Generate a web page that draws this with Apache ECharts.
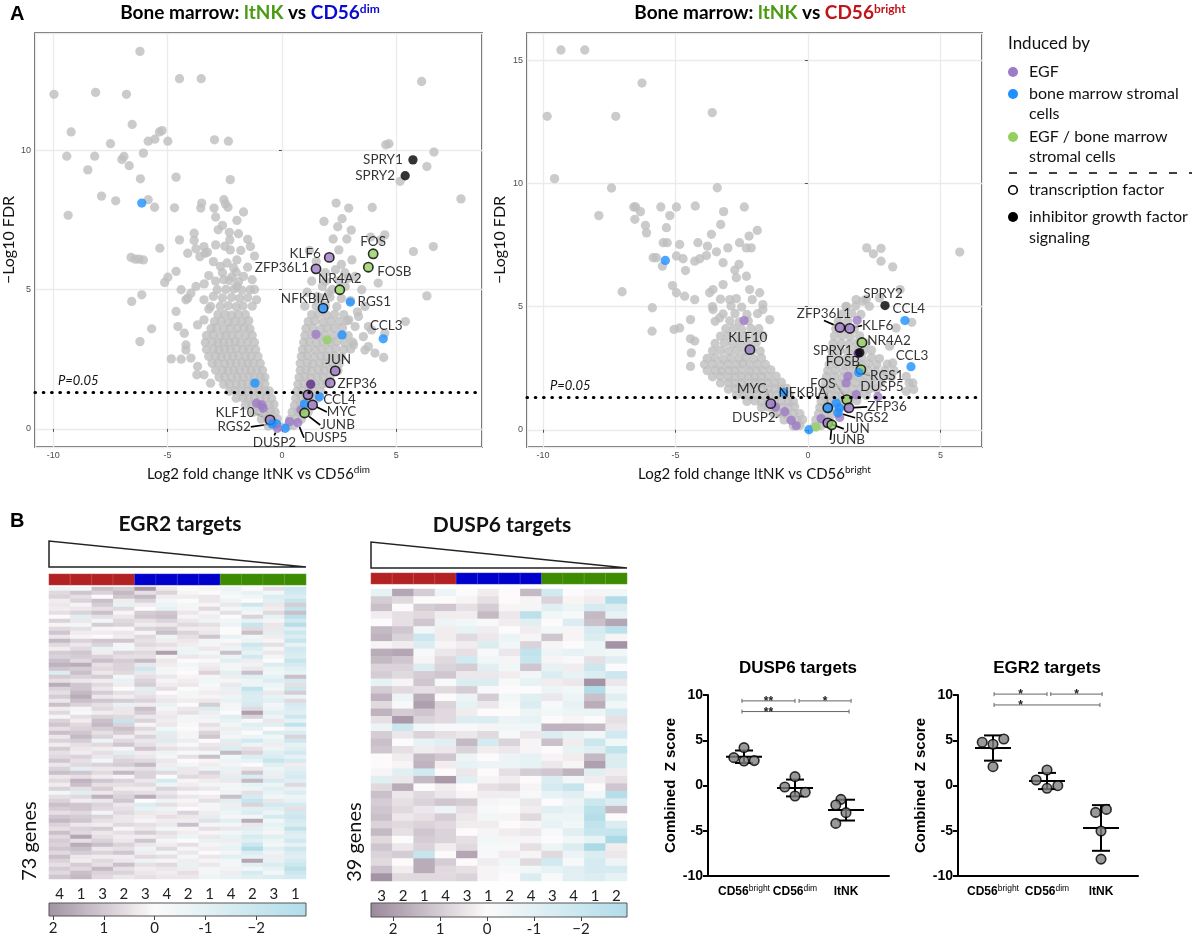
<!DOCTYPE html>
<html>
<head>
<meta charset="utf-8">
<title>Bone marrow ltNK</title>
<script src="https://cdn.jsdelivr.net/npm/echarts@6/dist/echarts.min.js"></script>
<style>
  html, body { margin: 0; padding: 0; background: #fff; }
  #chart { width: 1196px; height: 937px; }
</style>
</head>
<body>
<div id="chart"></div>
<script>
// ---------- panel A: volcano data (log2 FC, -log10 FDR) ----------
const pThreshold = 1.3; // -log10(0.05)

const dimGrey = [
  [-6.21,13.54],[-9.97,12.0],[-8.15,12.07],[-6.8,12.0],[-4.48,12.56],[-3.53,12.56],[6.11,12.46],
  [-9.22,10.65],[-6.55,10.92],[-7.5,10.23],[-5.36,10.65],[-5.24,10.7],[-5.85,10.32],[-5.56,10.39],[-4.99,10.32],[-2.95,10.37],[-2.34,10.32],
  [-9.41,9.78],[-8.19,9.78],[-7.0,9.66],[-6.91,9.77],[-6.68,9.44],[-6.06,9.89],[-8.49,9.29],[-6.19,8.97],[-4.63,9.03],[-2.26,8.94],
  [-7.89,8.35],[-7.27,8.18],[-9.35,7.66],[-5.85,8.22],[-5.57,7.95],[-4.7,7.93],[-3.51,8.1],[-3.55,7.92],[-2.97,7.92],[-2.54,8.22],[-2.47,8.07],[-2.36,7.95],[-1.68,7.78],[-1.97,7.48],
  [5.17,8.88],[4.68,10.23],[4.54,10.19],[6.65,9.93],[6.34,9.41],[7.83,8.25],
  [2.37,8.1],[2.92,7.92],[3.95,7.94],[1.84,7.44],[2.63,7.54],[2.44,7.25],[3.03,7.13],
  [5.75,6.36],[6.62,6.54],[6.34,4.77],[5.4,3.85],[4.45,2.56],[4.21,5.23],[4.5,6.96],[4.31,6.78],[3.88,6.88],[2.24,6.81],[2.84,6.81],
  [-3.76,6.46],[-3.36,6.3],[-4.48,6.78],[-3.84,6.76],[-3.84,7.02],[-2.79,7.14],[-2.28,6.78],[-4.12,6.3],[-3.59,6.18],[-3.26,6.34],[-5.34,6.48],
  [-6.6,6.15],[-6.42,6.09],[-6.25,6.09],[-6.06,6.06],[-1.38,6.54],[-2.26,6.42],
  [-4.63,5.65],[-4.99,5.44],[-5.13,5.25],[-6.13,4.81],[-6.57,4.57],[-5.7,3.59],[-6.21,3.13],[-4.84,2.51],[-4.63,4.21],[-4.41,4.99],[-4.12,4.69],[-4.2,3.01],[-4.41,2.5],[-3.72,1.94],
  [-3.41,6.54],[-1.97,6.06],[-2.69,5.83],[-2.11,5.77],[-1.68,5.47],[-2.54,5.35],[-1.97,5.11],[-1.39,4.99],[-2.83,4.99],[-1.11,4.63],
  [-3.76,5.11],[-3.98,4.87],[-4.2,4.63],[-3.41,4.63],[-3.12,4.39],[-3.41,3.91],[-3.69,3.73],
  [-4.55,3.67],[-4.27,3.43],[-4.2,2.83],[-3.98,2.54],[-3.69,2.24],[-3.41,1.94],[-3.12,1.64],
  [-2.9,7.6],[-2.6,7.3],[-2.3,7.05],[-1.9,7.0],[-1.5,6.8],[-2.9,6.6],[-2.5,6.55],[-1.8,6.4],[-1.2,6.2],[-3.0,6.0],
  [-2.4,5.95],[-1.5,5.8],[-3.2,5.5],[-2.2,5.45],[-1.3,5.35],[-3.4,5.2],[-1.2,5.0],[-3.0,4.75],[-1.3,4.4],[-3.2,4.3],
  [1.2,6.4],[1.5,6.0],[1.9,5.6],[2.6,5.9],[1.3,5.3],[2.9,5.4],[1.1,4.9],[3.0,4.6],[1.0,4.4],[3.3,4.2],
  [3.92,3.55],[3.56,3.31],[3.2,3.67],[3.63,2.83],[4.07,2.72],[3.78,2.95],[3.13,3.01],
  [2.49,6.42],[3.06,6.06],[3.2,5.47],[2.34,5.71],[2.77,5.11],[3.49,4.99],[3.63,4.39],[3.35,4.03],[2.92,3.91],[2.05,4.87],[1.77,5.11],[1.55,4.75],[3.78,3.67],[4.5,3.43],
  [-0.6,0.1],[-0.35,0.12],[-0.1,0.08],[0.25,0.1],[0.5,0.12],
  [-0.9,0.35],[-0.65,0.38],[-0.4,0.33],[-0.2,0.36],[0.35,0.34],[0.6,0.37],[0.85,0.35],
  [-1.25,0.6],[-1.0,0.62],[-0.75,0.58],[-0.5,0.61],[-0.3,0.6],[0.45,0.6],[0.7,0.62],[0.95,0.59],[1.15,0.61],
  [-1.6,0.85],[-1.3,0.87],[-1.05,0.83],[-0.8,0.86],[-0.55,0.85],[-0.35,0.88],[0.55,0.85],[0.8,0.87],[1.05,0.84],[1.3,0.86],
  [-2.0,1.1],[-1.7,1.12],[-1.45,1.08],[-1.2,1.11],[-0.95,1.1],[-0.7,1.13],[-0.45,1.09],[0.6,1.1],[0.85,1.12],[1.1,1.08],[1.35,1.11],[1.55,1.1],
  [-2.3,1.35],[-2.05,1.37],[-1.75,1.33],[-1.5,1.36],[-1.25,1.35],[-1.0,1.38],[-0.75,1.34],[-0.55,1.36],[0.65,1.35],[0.9,1.37],[1.15,1.33],[1.4,1.36],[1.7,1.35],
  [-2.55,1.6],[-2.3,1.62],[-2.0,1.58],[-1.75,1.61],[-1.5,1.6],[-1.25,1.63],[-1.0,1.59],[-0.75,1.61],[0.7,1.6],[0.95,1.62],[1.2,1.58],[1.45,1.61],[1.75,1.6],[1.95,1.63],
  [-2.75,1.85],[-2.5,1.87],[-2.2,1.83],[-1.95,1.86],[-1.7,1.85],[-1.45,1.88],[-1.2,1.84],[-0.95,1.86],[-0.75,1.85],[0.75,1.85],[1.0,1.87],[1.25,1.83],[1.55,1.86],[1.8,1.85],[2.1,1.88],
  [-2.9,2.1],[-2.6,2.12],[-2.35,2.08],[-2.1,2.11],[-1.85,2.1],[-1.6,2.13],[-1.35,2.09],[-1.1,2.11],[-0.85,2.1],[0.8,2.1],[1.05,2.12],[1.3,2.08],[1.6,2.11],[1.85,2.1],[2.15,2.13],[2.45,2.09],
  [-3.05,2.35],[-2.8,2.37],[-2.5,2.33],[-2.25,2.36],[-2.0,2.35],[-1.75,2.38],[-1.5,2.34],[-1.25,2.36],[-0.95,2.35],[0.8,2.35],[1.1,2.37],[1.35,2.33],[1.65,2.36],[1.9,2.35],[2.2,2.38],[2.5,2.34],
  [-3.2,2.6],[-2.9,2.62],[-2.65,2.58],[-2.4,2.61],[-2.15,2.6],[-1.9,2.63],[-1.6,2.59],[-1.35,2.61],[-1.05,2.6],[0.85,2.6],[1.1,2.62],[1.4,2.58],[1.7,2.61],[1.95,2.6],[2.3,2.63],[2.6,2.59],
  [-3.3,2.85],[-3.0,2.87],[-2.75,2.83],[-2.5,2.86],[-2.25,2.85],[-2.0,2.88],[-1.7,2.84],[-1.45,2.86],[-1.15,2.85],[0.9,2.85],[1.15,2.87],[1.45,2.83],[1.75,2.86],[2.05,2.85],[2.35,2.88],[2.7,2.84],[3.0,2.86],
  [-3.35,3.1],[-3.05,3.12],[-2.8,3.08],[-2.55,3.11],[-2.3,3.1],[-2.05,3.13],[-1.8,3.09],[-1.5,3.11],[-1.2,3.1],[0.95,3.1],[1.2,3.12],[1.5,3.08],[1.8,3.11],[2.1,3.1],[2.4,3.13],[2.75,3.09],[3.1,3.11],
  [-3.3,3.35],[-3.0,3.37],[-2.7,3.33],[-2.45,3.36],[-2.2,3.35],[-1.9,3.38],[-1.6,3.34],[-1.3,3.36],[1.0,3.35],[1.3,3.37],[1.6,3.33],[1.9,3.36],[2.25,3.35],[2.6,3.38],[2.9,3.34],
  [-3.1,3.6],[-2.85,3.62],[-2.55,3.58],[-2.25,3.61],[-1.95,3.6],[-1.65,3.63],[-1.4,3.59],[1.05,3.6],[1.35,3.62],[1.7,3.58],[2.0,3.61],[2.3,3.6],[2.65,3.63],
  [-2.95,3.85],[-2.65,3.87],[-2.35,3.83],[-2.05,3.86],[-1.75,3.85],[-1.45,3.88],[1.15,3.85],[1.45,3.87],[1.8,3.83],[2.15,3.86],[2.5,3.85],[2.85,3.88],
  [-2.8,4.1],[-2.5,4.12],[-2.2,4.08],[-1.9,4.11],[-1.6,4.1],[1.3,4.1],[1.6,4.12],[1.95,4.08],[2.3,4.11],[2.7,4.1],
  [-2.7,4.4],[-2.35,4.42],[-2.0,4.38],[-1.7,4.41],[1.5,4.4],[1.9,4.42],[2.4,4.38],
  [-2.6,4.7],[-2.2,4.72],[-1.85,4.68],[-1.5,4.71],[1.7,4.7],[2.1,4.72],[2.6,4.68],
  [-2.45,5.0],[-2.1,5.02],[-1.75,4.98],[2.2,5.0],
  [-2.9,5.3],[-2.3,5.32],[-1.9,5.28],[1.9,5.3],[2.5,5.32],
  [-2.6,5.6],[-2.0,5.62],[2.75,5.6]
];
const dimPurple = [[1.49,3.39],[-1.11,0.92],[-0.89,0.86],[-0.82,0.74],[0.33,0.26],[0.83,0.68]];
const dimDarkPurple = [[1.26,1.6]];
const dimBlue = [[-6.13,8.1],[2.63,3.37],[-1.18,1.64],[0.98,0.89],[-0.24,0.18],[0.14,0.02]];
const dimGreen = [[1.98,3.19]];
const dimOpenTf = [[1.14,1.22]];
const dimGenes = ['SPRY1','SPRY2','FOS','FOSB','KLF6','ZFP36L1','NR4A2','RGS1','NFKBIA','CCL3','JUN','ZFP36','CCL4','MYC','JUNB','DUSP5','DUSP2','KLF10','RGS2'];
const dimGeneX = [5.73,5.39,3.99,3.78,2.07,1.49,2.53,2.99,1.80,4.43,2.33,2.11,1.64,1.34,0.99,0.69,-0.2,-0.52,-0.43];
const dimGeneY = [9.65,9.08,6.28,5.80,6.15,5.74,4.99,4.55,4.33,3.23,2.08,1.65,1.15,0.86,0.57,0.22,0.02,0.32,0.18];

const brightGrey = [
  [-9.32,15.41],[-8.42,15.41],[-6.26,14.07],[-9.84,12.72],[-7.25,12.72],[-3.61,12.87],[-9.56,10.19],[-7.41,9.81],[-3.42,9.82],
  [-7.89,8.69],[-6.57,9.04],[-6.5,9.04],[-6.32,8.85],[-6.53,8.54],[-5.55,9.04],[-5.21,8.69],[-4.96,9.04],[-4.25,9.08],[-6.13,8.29],[-6.09,7.99],[-5.34,8.2],
  [-3.18,8.85],[-3.29,8.33],[-2.4,9.04],[-1.91,8.09],[-3.64,7.93],[-3.79,7.45],[-3.45,7.22],[-3.02,7.38],[-4.15,7.59],[-4.84,7.52],[-5.46,7.59],[-5.31,7.59],
  [-2.58,7.59],[-2.32,7.38],[-2.22,7.86],[-2.14,7.38],[-5.84,6.98],[-5.72,6.98],[-5.49,6.64],[-4.96,7.05],[-4.71,6.94],[-4.27,6.84],[-4.08,6.94],[-3.83,7.07],
  [-4.62,6.46],[-5.11,5.85],[-4.96,5.56],[-4.65,5.42],[-4.27,5.28],[-3.71,5.56],[-3.58,5.69],[-7.01,5.6],[-5.87,4.95],[-5.88,4.0],[-5.05,4.07],[-4.84,4.13],
  [-4.43,4.47],[-4.43,3.69],[-4.27,3.6],[-4.4,3.12],[-4.43,2.57],
  [-2.76,6.48],[-2.6,6.71],[-3.2,5.89],[-2.7,6.17],[-3.2,6.78],[-2.32,6.23],[-2.2,5.69],[-1.82,5.56],[-1.7,5.08],[-2.95,5.28],[-3.58,4.88],[-3.33,4.54],[-1.7,4.88],[-1.44,4.47],
  [2.22,7.38],[2.47,7.14],[2.76,7.36],[2.76,6.84],[3.2,6.61],[5.73,7.21],[3.48,5.69],[3.92,4.36],[3.99,1.63],[3.82,1.9],
  [1.82,5.28],[2.07,5.22],[2.32,5.01],[1.44,5.01],[2.7,5.35],[3.33,4.13],[3.08,3.39],[3.2,2.71],[3.71,2.17],[3.96,1.9],[3.71,1.56],
  [-0.55,0.15],[-0.3,0.17],[0.25,0.14],[0.5,0.16],
  [-0.9,0.4],[-0.65,0.42],[-0.4,0.38],[-0.2,0.41],[0.3,0.4],[0.55,0.42],[0.8,0.38],
  [-1.3,0.65],[-1.05,0.67],[-0.8,0.63],[-0.55,0.66],[-0.3,0.65],[0.4,0.65],[0.65,0.67],[0.9,0.63],[1.15,0.66],
  [-1.75,0.9],[-1.5,0.92],[-1.25,0.88],[-1.0,0.91],[-0.75,0.9],[-0.5,0.93],[0.45,0.9],[0.7,0.92],[0.95,0.88],[1.2,0.91],[1.45,0.9],
  [-2.3,1.15],[-2.0,1.17],[-1.75,1.13],[-1.5,1.16],[-1.25,1.15],[-1.0,1.18],[-0.75,1.14],[-0.55,1.16],[0.5,1.15],[0.75,1.17],[1.0,1.13],[1.25,1.16],[1.55,1.15],[1.85,1.18],
  [-2.7,1.4],[-2.45,1.42],[-2.2,1.38],[-1.95,1.41],[-1.7,1.4],[-1.45,1.43],[-1.2,1.39],[-0.95,1.41],[-0.7,1.4],[0.55,1.4],[0.8,1.42],[1.05,1.38],[1.3,1.41],[1.6,1.4],[1.9,1.43],[2.2,1.39],
  [-3.0,1.65],[-2.75,1.67],[-2.5,1.63],[-2.25,1.66],[-2.0,1.65],[-1.75,1.68],[-1.5,1.64],[-1.25,1.66],[-1.0,1.65],[-0.8,1.68],[0.6,1.65],[0.85,1.67],[1.1,1.63],[1.4,1.66],[1.7,1.65],[2.0,1.68],[2.3,1.64],[2.6,1.66],
  [-3.3,1.9],[-3.0,1.92],[-2.75,1.88],[-2.5,1.91],[-2.25,1.9],[-2.0,1.93],[-1.75,1.89],[-1.5,1.91],[-1.25,1.9],[-1.0,1.93],[0.65,1.9],[0.9,1.92],[1.2,1.88],[1.5,1.91],[1.8,1.9],[2.1,1.93],[2.4,1.89],[2.75,1.91],
  [-3.6,2.15],[-3.3,2.17],[-3.0,2.13],[-2.75,2.16],[-2.5,2.15],[-2.25,2.18],[-2.0,2.14],[-1.75,2.16],[-1.5,2.15],[-1.2,2.18],[0.7,2.15],[1.0,2.17],[1.3,2.13],[1.6,2.16],[1.9,2.15],[2.2,2.18],[2.5,2.14],[2.85,2.16],[3.15,2.15],
  [-3.8,2.4],[-3.5,2.42],[-3.25,2.38],[-3.0,2.41],[-2.75,2.4],[-2.5,2.43],[-2.2,2.39],[-1.95,2.41],[-1.7,2.4],[-1.4,2.43],[0.75,2.4],[1.05,2.42],[1.35,2.38],[1.65,2.41],[1.95,2.4],[2.25,2.43],[2.55,2.39],[2.9,2.41],[3.25,2.4],
  [-3.9,2.65],[-3.6,2.67],[-3.3,2.63],[-3.0,2.66],[-2.7,2.65],[-2.45,2.68],[-2.2,2.64],[-1.9,2.66],[-1.6,2.65],[0.8,2.65],[1.1,2.67],[1.4,2.63],[1.7,2.66],[2.0,2.65],[2.3,2.68],[2.6,2.64],[3.0,2.66],
  [-3.8,2.9],[-3.5,2.92],[-3.2,2.88],[-2.9,2.91],[-2.6,2.9],[-2.35,2.93],[-2.05,2.89],[-1.75,2.91],[0.85,2.9],[1.15,2.92],[1.45,2.88],[1.75,2.91],[2.05,2.9],[2.4,2.93],[2.7,2.89],
  [-3.6,3.2],[-3.3,3.22],[-3.0,3.18],[-2.7,3.21],[-2.4,3.2],[-2.1,3.23],[-1.8,3.19],[0.9,3.2],[1.2,3.22],[1.5,3.18],[1.8,3.21],[2.1,3.2],[2.4,3.23],
  [-3.5,3.5],[-3.15,3.52],[-2.85,3.48],[-2.55,3.51],[-2.25,3.5],[-1.95,3.53],[0.95,3.5],[1.25,3.52],[1.55,3.48],[1.85,3.51],[2.2,3.5],
  [-3.3,3.8],[-3.0,3.82],[-2.65,3.78],[-2.35,3.81],[-2.0,3.8],[-1.7,3.83],[1.0,3.8],[1.3,3.82],[1.6,3.78],[1.95,3.81],
  [-3.1,4.1],[-2.8,4.12],[-2.5,4.08],[-2.15,4.11],[-1.85,4.1],[1.05,4.1],[1.4,4.12],[1.75,4.08],
  [-3.5,4.4],[-2.95,4.42],[-2.6,4.38],[-2.25,4.41],[1.15,4.4],[1.5,4.42],
  [-3.2,4.7],[-2.75,4.72],[-2.3,4.68],[-1.9,4.71],[1.3,4.7],[1.65,4.72],[2.0,4.68],
  [-3.6,5.0],[-2.9,5.02],[-2.5,4.98],[1.45,5.0],[1.8,5.02],
  [-3.3,5.3],[-2.7,5.32],[-2.1,5.28],[2.2,5.3]
];
const brightPurple = [[1.86,4.44],[-2.41,4.43],[1.51,2.17],[1.44,1.9],[1.82,1.42],[-1.22,0.92],[-0.63,0.38],[-0.44,0.16],[0.5,0.45],[1.2,0.5]];
const brightDarkPurple = [[1.9,3.1]];
const brightBlue = [[-5.38,6.87],[-0.92,1.52],[1.07,1.08],[1.19,0.88],[0.04,0.0]];
const brightGreen = [[0.31,0.11]];
const brightOpenTf = [];
const brightGenes = ['SPRY2','CCL4','ZFP36L1','KLF6','NR4A2','SPRY1','CCL3','FOSB','RGS1','DUSP5','FOS','ZFP36','NFKBIA','RGS2','JUN','JUNB','MYC','DUSP2','KLF10'];
const brightGeneX = [2.91,3.66,1.21,1.58,2.04,1.96,3.89,2.0,1.92,2.64,1.47,1.55,0.75,1.13,0.75,0.9,-1.40,-0.87,-2.19];
const brightGeneY = [5.04,4.43,4.15,4.11,3.54,3.13,2.56,2.44,2.32,1.34,1.22,0.89,0.89,0.69,0.28,0.2,1.06,0.73,3.25];

const geneGroup = {
  SPRY1: 'inhibitor', SPRY2: 'inhibitor',
  FOS: 'both', FOSB: 'both', NR4A2: 'both', JUNB: 'both',
  KLF6: 'EGF', ZFP36L1: 'EGF', JUN: 'EGF', ZFP36: 'EGF', MYC: 'EGF', DUSP5: 'EGF', DUSP2: 'EGF', KLF10: 'EGF',
  RGS1: 'stromal', NFKBIA: 'stromal', CCL3: 'stromal', CCL4: 'stromal', RGS2: 'stromal'
};
const tfGenes = ['FOS','FOSB','NR4A2','JUNB','KLF6','ZFP36L1','JUN','ZFP36','MYC','KLF10','NFKBIA'];

// ---------- panel B: heatmaps (z-scores, rows = genes, cols = samples) ----------
const sampleGroup = ['CD56bright','CD56bright','CD56bright','CD56bright','CD56dim','CD56dim','CD56dim','CD56dim','ltNK','ltNK','ltNK','ltNK'];
const egr2Samples = ['4','1','3','2','3','4','2','1','4','2','3','1'];
const dusp6Samples = ['3','2','1','4','3','1','2','4','3','4','1','2'];
const egr2Z = [
  [-0.3,-0.2,0.9,0.7,1.5,0.3,0.0,0.1,-0.3,0.0,0.4,-0.9],
  [0.5,0.8,0.6,1.0,0.4,0.6,0.1,0.0,-0.2,-0.4,-0.2,-0.8],
  [0.6,0.4,0.0,0.8,1.0,0.2,0.2,0.3,-0.1,-0.2,-0.6,-0.6],
  [0.2,0.6,0.9,0.2,0.6,-0.2,0.0,0.3,-0.3,0.0,-0.5,-1.0],
  [0.3,0.1,0.7,-0.4,0.2,-0.3,-0.2,0.1,0.3,-0.9,0.3,0.7],
  [0.2,0.3,0.4,0.5,0.0,-0.4,0.1,0.5,-0.2,-0.3,0.2,-1.1],
  [0.4,0.6,0.9,0.1,0.7,0.8,0.3,0.1,0.4,-0.2,0.5,0.9],
  [0.0,-0.5,0.4,0.3,0.8,0.9,0.1,0.2,0.0,0.6,-0.4,-1.2],
  [0.6,0.3,-0.2,0.5,0.4,0.6,0.3,-0.3,-0.2,-0.4,0.1,-0.8],
  [0.1,-0.2,0.7,0.6,0.2,0.3,0.5,0.4,-0.3,-1.0,0.3,-1.3],
  [0.5,0.4,0.1,-0.1,0.6,0.7,0.2,0.2,0.0,0.5,0.3,-0.5],
  [0.8,0.2,0.2,0.3,0.1,0.9,0.6,0.3,0.0,0.9,-0.5,-0.9],
  [0.3,0.1,0.0,0.2,0.5,-0.3,0.4,0.8,-0.4,-0.2,0.2,-0.6],
  [1.0,0.6,0.8,0.8,0.4,0.2,0.3,-0.2,-0.1,-0.3,0.1,-1.0],
  [0.5,0.3,0.6,0.1,0.5,0.4,0.2,0.1,0.2,-0.9,0.4,-0.4],
  [0.2,0.5,-0.4,-0.2,0.3,0.2,-0.3,0.3,-0.3,-0.6,-0.2,-0.8],
  [0.7,0.8,0.2,0.6,0.5,1.4,-0.3,-0.2,0.9,-0.4,0.3,-0.7],
  [0.6,0.7,0.6,0.4,0.4,0.1,0.3,0.2,-0.3,-0.8,-0.2,-0.6],
  [0.9,0.5,0.9,0.7,1.0,0.3,0.0,-0.1,-0.5,0.2,0.0,-1.0],
  [1.1,1.2,0.4,0.6,0.3,0.2,-0.2,0.2,0.1,-0.3,-0.6,-0.7],
  [0.8,0.7,0.5,0.6,-0.9,0.1,-0.1,0.3,-0.2,0.3,-0.3,-0.5],
  [-0.6,0.9,0.3,0.5,0.3,-0.2,0.0,0.6,-0.5,0.9,-0.2,-0.4],
  [0.7,0.6,0.7,-0.2,0.4,0.3,0.1,0.1,0.2,-0.5,-0.4,0.9],
  [0.4,0.3,0.2,-0.4,0.6,0.1,0.2,-0.2,-0.2,-0.3,-0.6,-0.7],
  [1.2,0.8,0.5,0.2,0.7,0.2,0.3,-0.1,0.3,-0.3,-0.3,0.4],
  [0.6,0.8,0.3,0.0,-0.5,0.4,0.0,0.1,-0.4,-1.1,-0.2,-0.9],
  [0.4,1.0,0.7,0.4,0.3,0.0,-0.2,0.2,0.2,-0.7,0.3,0.7],
  [0.7,1.2,0.3,0.2,0.4,0.2,0.1,0.1,-0.3,-0.6,-0.4,-0.3],
  [0.3,0.9,0.8,0.7,0.6,0.3,0.2,0.3,-0.4,-0.6,-0.5,0.5],
  [0.9,0.6,0.4,-0.4,0.2,-0.4,0.0,0.7,0.1,-0.7,-0.2,-0.7],
  [0.2,0.1,0.5,0.3,0.9,0.1,0.3,-0.6,-0.2,0.5,-0.3,-0.6],
  [0.5,-0.1,0.2,0.3,0.7,0.2,0.4,0.2,0.0,1.4,-0.5,-0.5],
  [0.1,0.4,0.6,0.5,0.3,0.3,-0.2,-0.3,-0.5,0.6,-0.3,-0.9],
  [0.6,0.2,0.9,-1.0,0.6,0.2,0.1,0.1,-0.4,-0.1,0.3,-0.4],
  [0.8,0.5,1.0,0.6,0.1,0.3,-0.1,0.4,-0.2,-0.5,-0.5,-1.1],
  [0.4,0.6,0.7,0.9,0.5,-0.2,0.0,0.2,0.2,-0.4,0.0,-0.3],
  [0.9,0.8,0.4,0.7,0.2,-0.5,0.1,0.6,-0.3,0.0,-0.6,-0.6],
  [0.3,1.0,0.6,0.2,0.6,0.3,-0.2,0.8,0.1,-0.3,-0.2,0.6],
  [0.6,0.7,-0.3,0.5,0.3,-0.6,0.2,0.0,-0.5,-0.8,-0.4,-0.9],
  [0.2,0.4,0.5,0.8,0.4,0.2,-0.1,0.3,0.3,-0.3,0.2,-0.4],
  [0.7,0.3,0.2,0.1,0.8,0.4,0.3,0.4,-0.6,0.4,-0.3,-0.5],
  [0.4,0.2,0.4,-0.5,0.2,-0.3,-0.1,-0.2,1.0,0.6,-0.5,-0.8],
  [0.5,0.6,0.3,0.4,0.3,0.1,0.4,0.9,-0.2,-0.6,-0.6,-0.4],
  [0.8,0.4,-0.2,0.6,0.5,0.3,0.0,0.1,-0.3,-0.4,-1.0,-0.7],
  [0.3,0.5,0.6,0.7,1.0,0.2,-0.2,0.2,0.1,0.0,-0.5,0.2],
  [0.6,-0.5,0.3,0.3,0.4,-0.4,0.3,-0.3,-0.4,0.3,-0.3,-0.5],
  [0.9,0.8,0.5,1.0,0.6,0.5,0.3,0.6,0.2,0.8,-0.4,-0.6],
  [0.3,0.4,0.2,0.1,0.6,0.0,0.5,0.4,-0.5,-0.6,0.2,-0.7],
  [0.5,1.1,0.8,0.6,0.3,-0.7,0.1,0.2,0.3,1.0,-0.7,-0.5],
  [0.2,0.9,0.4,0.4,0.5,-0.3,0.2,-0.2,-0.2,-0.4,-0.3,0.5],
  [0.6,0.4,0.7,0.2,0.2,0.6,0.4,0.3,0.1,-0.3,-0.5,-0.4],
  [-0.2,-0.5,0.3,0.5,0.4,0.3,-0.1,0.0,-0.3,0.4,-0.4,-0.6],
  [0.4,0.5,1.1,0.6,1.2,0.5,0.3,0.2,0.9,-0.7,-0.2,-0.3],
  [0.6,0.2,0.3,0.8,0.0,-0.3,0.1,0.4,-0.5,-1.0,0.3,-0.4],
  [0.9,0.8,0.6,0.3,-0.6,0.4,0.2,-0.2,0.2,0.6,-0.8,-0.7],
  [0.7,0.8,0.5,0.4,-0.4,-0.3,0.0,0.1,-0.4,-0.5,-0.5,0.4],
  [0.4,0.5,-0.2,0.5,0.3,0.2,0.6,0.2,-0.3,-0.6,-0.3,-0.8],
  [0.8,0.7,0.6,0.3,0.2,0.4,0.3,-0.5,0.1,-0.2,-0.7,-0.9],
  [1.0,0.8,0.4,0.3,0.1,0.2,0.2,0.4,-0.5,1.2,-0.2,-0.7],
  [0.6,0.3,0.2,0.5,0.4,0.3,0.9,-0.2,-0.2,0.3,-0.4,-0.6],
  [0.4,0.6,0.7,0.1,0.3,-0.2,0.1,0.4,0.3,-0.5,-0.3,-1.1],
  [0.9,0.5,0.3,0.4,0.7,0.4,0.2,0.1,-0.2,-0.4,0.1,-0.6],
  [0.5,1.3,0.4,0.2,0.2,0.3,-0.3,0.3,-0.4,-0.7,-0.5,-0.5],
  [0.7,0.4,0.6,0.3,0.8,0.1,0.0,-0.4,0.2,-0.5,-0.3,-0.8],
  [0.6,1.2,0.9,0.6,0.3,0.2,0.4,0.1,-0.3,-0.9,-0.2,-0.4],
  [0.8,0.9,0.3,0.4,-0.3,0.5,0.1,0.2,-0.4,-1.4,-0.5,-0.9],
  [0.5,0.7,0.6,0.8,0.2,-0.2,0.3,0.0,0.1,-0.6,-0.3,-0.6],
  [0.9,0.3,0.2,0.2,0.5,0.4,-0.2,0.3,-0.5,-0.4,0.2,-0.5],
  [0.6,0.2,0.5,0.3,-0.3,0.1,0.2,0.1,-0.2,1.3,-0.4,-0.7],
  [0.4,0.7,0.4,0.9,0.4,0.5,-0.4,0.3,0.1,-0.5,-0.6,-0.9],
  [0.7,0.5,1.0,0.4,0.2,0.3,0.2,-0.2,-0.3,-0.2,-0.4,-1.2],
  [0.5,0.9,0.6,0.6,0.3,0.2,0.4,0.1,0.2,-0.7,-0.2,-0.9],
  [0.8,1.0,0.5,0.3,0.4,0.3,0.3,-0.3,-0.4,-0.5,-0.6,-0.7]
];
const dusp6Z = [
  [-0.4,1.3,0.7,-0.3,0.0,0.2,0.0,1.0,-0.8,0.0,0.1,-0.2],
  [0.7,0.5,0.0,0.0,0.1,0.4,0.0,0.1,0.6,0.1,0.2,-1.4],
  [0.9,0.0,0.7,0.8,0.4,0.7,0.1,0.1,-0.5,-0.3,-0.7,-0.6],
  [0.2,0.4,0.5,0.2,0.2,1.0,0.3,-1.2,-0.2,-0.1,1.0,-0.4],
  [0.0,0.4,0.8,-0.3,-0.2,-0.1,0.2,-0.5,0.0,-0.6,0.9,1.3],
  [1.0,0.8,-0.2,0.2,-0.4,0.2,0.0,0.2,-0.2,0.1,-0.7,-1.2],
  [1.1,0.6,-0.9,0.2,0.5,0.3,-0.3,0.1,0.8,0.1,-0.6,0.1],
  [0.1,0.2,-0.6,0.1,0.2,-0.6,-0.2,0.6,0.1,0.0,-0.3,2.0],
  [1.2,1.3,-0.1,0.3,0.4,-0.1,0.3,-1.1,-0.3,-0.4,-0.3,-0.2],
  [1.0,0.8,0.1,0.5,-0.8,-0.2,0.1,-1.0,0.1,-0.1,0.4,-0.5],
  [0.6,0.6,-0.6,0.6,0.7,-0.5,-0.2,0.8,-0.4,0.2,-0.9,0.0],
  [0.7,0.5,0.7,0.8,0.3,0.3,0.2,-0.2,-0.6,-0.4,-0.6,-0.9],
  [-0.4,0.1,0.8,-0.1,-0.6,-0.6,-0.1,-0.4,0.2,0.3,1.7,0.3],
  [0.7,0.5,0.4,0.5,0.7,-0.1,0.0,0.0,-0.3,-0.2,-1.4,-0.2],
  [1.1,-0.3,1.2,0.0,-0.3,0.7,-0.2,-0.5,0.3,-0.3,0.9,-0.5],
  [0.5,-0.1,1.4,0.6,-0.4,0.3,-0.1,-0.6,-0.1,-0.4,1.2,-0.2],
  [1.1,0.7,0.8,0.5,0.2,0.0,0.0,-0.3,-0.2,-0.3,-0.3,-0.7],
  [0.4,1.5,0.6,0.5,-0.6,-0.6,-0.3,-0.4,0.0,0.1,0.0,0.4],
  [-0.3,-0.9,-0.2,-0.1,-0.1,0.1,-0.2,-0.2,1.1,1.1,1.0,0.3],
  [0.7,0.3,0.6,0.4,0.3,0.5,-0.1,0.3,-0.6,-0.4,-0.2,-0.8],
  [0.9,0.0,-0.4,-0.5,1.0,-0.7,0.6,0.1,0.9,0.2,-0.9,-0.2],
  [0.8,0.4,0.2,0.3,0.6,0.2,0.3,0.1,0.0,-0.4,-0.5,-1.1],
  [0.0,0.2,1.0,0.8,-0.3,0.0,-0.3,-0.4,0.1,0.2,1.0,-0.6],
  [0.0,0.1,1.1,0.2,-0.4,-0.3,-0.3,-0.4,0.3,0.1,1.4,-0.6],
  [0.1,-0.5,-0.8,0.0,0.3,0.0,0.4,0.7,0.8,1.1,-0.5,0.2],
  [-0.5,0.3,1.0,1.5,-0.5,0.1,0.2,0.0,-0.6,-0.2,0.2,0.4],
  [0.5,1.2,0.0,0.2,0.0,0.4,0.5,0.1,-0.7,-1.0,0.0,0.8],
  [0.9,0.3,0.5,0.3,0.1,0.2,0.2,-0.1,-0.4,-0.5,-0.2,-1.3],
  [0.7,0.4,0.6,0.8,0.7,0.1,-0.1,0.3,0.0,-0.3,-0.9,-0.6],
  [0.8,0.5,0.3,-0.3,0.4,-0.1,0.0,0.2,-0.5,-0.4,-1.2,1.0],
  [0.9,0.3,0.4,0.7,0.3,-0.2,0.1,0.5,-0.3,-0.3,-1.3,0.0],
  [0.6,0.5,0.6,0.5,0.2,0.2,0.0,0.1,-0.4,-0.2,-1.1,-0.6],
  [1.0,0.4,0.8,0.6,0.0,0.1,0.2,0.3,-0.1,-0.5,-1.0,-1.0],
  [0.5,0.0,0.7,0.6,0.4,-0.2,0.1,0.1,0.0,-0.2,-0.4,-1.5],
  [0.8,0.3,0.6,0.2,0.5,-0.1,-0.1,0.4,-0.3,-0.6,-1.5,0.2],
  [0.6,0.7,-1.0,0.0,1.3,-0.1,0.2,0.1,0.5,-0.3,-0.6,0.3],
  [0.5,0.0,1.2,0.7,0.0,0.2,-0.2,0.5,-0.8,-0.1,-0.7,-0.3],
  [0.9,0.2,1.2,0.5,0.4,0.1,-0.1,-0.2,-0.4,-0.5,-0.7,-0.7],
  [1.6,0.5,0.5,0.5,0.6,0.1,0.0,-0.6,-0.1,-0.5,-0.6,-0.4]
];

// ---------- panel B: combined Z scores ----------
const dotGroups = ['CD56bright', 'CD56dim', 'ltNK'];
const dusp6Scores = [[4.18, 3.08, 2.7, 2.75], [0.98, -0.17, -1.16, -0.75], [-1.53, -2.16, -3.0, -4.19]];
const dusp6Jitter = [[0, -0.2, 0, 0.2], [0, -0.2, 0, 0.2], [-0.1, -0.2, 0, -0.2]];
const egr2Scores = [[4.78, 4.56, 5.14, 2.08], [1.71, 0.61, -0.31, -0.02], [-2.97, -2.64, -5.03, -8.13]];
const egr2Jitter = [[-0.2, 0, 0.2, 0], [0, -0.2, 0, 0.2], [-0.1, 0.1, 0, 0]];
// [from, to, y, star x]
const dusp6Sig = [[-0.04, 1.0, 9.35, 0.48], [1.08, 2.1, 9.35, 1.59], [-0.04, 2.06, 8.17, 0.48]];
const dusp6SigText = ['**', '*', '**'];
const egr2Sig = [[0.02, 1.0, 10.1, 0.51], [1.07, 2.02, 10.1, 1.55], [0.02, 1.98, 8.9, 0.51]];
const egr2SigText = ['*', '*', '*'];

// ---------- styles ----------
const colPurple = '#9d7bc6', colBlue = '#1e90ff', colGreen = '#94d060', colGrey = '#bebebe';
const groupColor = { EGF: colPurple, stromal: colBlue, both: colGreen, inhibitor: '#000' };
const stripColor = { CD56bright: '#b22222', CD56dim: '#0000cd', ltNK: '#3d8b00' };
const sans = 'Lato';
const arial = 'Liberation Sans';

const dimOffsets = {
  SPRY1: [-30, 0], SPRY2: [-30, 0], FOS: [0, -12], FOSB: [26, 4], KLF6: [-24, -4], ZFP36L1: [-34, -1],
  NR4A2: [0, -11], RGS1: [24, 0], NFKBIA: [-18, -10], CCL3: [3, -13], JUN: [3, -11], ZFP36: [27, 1],
  CCL4: [20, 3], MYC: [29, 7], JUNB: [33, 12], DUSP5: [28, 15], DUSP2: [-3, 14], KLF10: [-35, -7], RGS2: [-38, 3]
};
const dimLeaders = ['MYC', 'JUNB', 'DUSP5', 'DUSP2', 'KLF10', 'RGS2'];
const brightOffsets = {
  SPRY2: [-2, -12], CCL4: [4, -12], ZFP36L1: [-16, -14], KLF6: [28, -3], NR4A2: [27, -2], SPRY1: [-27, -2],
  CCL3: [1, -11], FOSB: [-18, -8], RGS1: [28, 3], DUSP5: [4, -10], FOS: [-24, -16], ZFP36: [38, -1],
  NFKBIA: [-25, -15], RGS2: [34, 5], JUN: [29, 6], JUNB: [16, 15], MYC: [-19, -15], DUSP2: [-31, 6], KLF10: [-2, -12]
};
const brightLeaders = ['ZFP36L1', 'KLF6', 'RGS1', 'FOS', 'ZFP36', 'NFKBIA', 'RGS2', 'JUN', 'JUNB', 'MYC', 'DUSP2'];

function geneLabelLayout(names, offsets, leaders) {
  return function (p) {
    const name = names[p.dataIndex];
    const off = offsets[name] || [0, -12];
    const cx = p.rect.x + p.rect.width / 2;
    const cy = p.rect.y + p.rect.height / 2;
    const lx = cx + off[0], ly = cy + off[1];
    const out = { x: lx, y: ly, align: 'center', verticalAlign: 'middle' };
    if (leaders.indexOf(name) >= 0) {
      const len = Math.hypot(off[0], off[1]);
      const ux = off[0] / len, uy = off[1] / len;
      const hw = p.labelRect.width / 2 + 1, hh = p.labelRect.height / 2 - 1;
      const t = Math.min(off[0] ? hw / Math.abs(off[0]) : Infinity, off[1] ? hh / Math.abs(off[1]) : Infinity);
      const ex = lx - off[0] * t, ey = ly - off[1] * t;
      const sx = cx + ux * 5, sy = cy + uy * 5;
      out.labelLinePoints = [[sx, sy], [(sx + ex) / 2, (sy + ey) / 2], [ex, ey]];
    }
    return out;
  };
}

const series = [];

function addVolcano(gi, grey, purple, darkPurple, blue, green, openTf, names, gx, gy, offsets, leaders) {
  const base = { type: 'scatter', xAxisIndex: gi, yAxisIndex: gi, symbolSize: 9.3, silent: true, animation: false };
  series.push(Object.assign({}, base, {
    data: grey, itemStyle: { color: colGrey },
    markLine: {
      silent: true, symbol: 'none', animation: false,
      lineStyle: { color: '#000', type: [0.5, 7.8], width: 3.2, cap: 'round' },
      label: { show: true, position: 'insideStartTop', formatter: 'P=0.05', fontStyle: 'italic', fontFamily: sans, fontSize: 13, color: '#111', padding: [0, 0, 0, 18] },
      data: [{ yAxis: pThreshold }]
    }
  }));
  series.push(Object.assign({}, base, { data: purple, itemStyle: { color: colPurple } }));
  series.push(Object.assign({}, base, { data: darkPurple, itemStyle: { color: '#5b2a86' } }));
  series.push(Object.assign({}, base, { data: blue, itemStyle: { color: colBlue } }));
  series.push(Object.assign({}, base, { data: green, itemStyle: { color: colGreen } }));
  series.push(Object.assign({}, base, { data: openTf, itemStyle: { color: colPurple, borderColor: '#000', borderWidth: 1.6 } }));
  series.push(Object.assign({}, base, {
    data: names.map((n, i) => ({
      name: n, value: [gx[i], gy[i]],
      labelLine: { show: leaders.indexOf(n) >= 0 },
      itemStyle: tfGenes.indexOf(n) >= 0
        ? { color: groupColor[geneGroup[n]], borderColor: '#000', borderWidth: 1.6 }
        : { color: groupColor[geneGroup[n]], borderWidth: 0 }
    })),
    label: { show: true, formatter: '{b}', fontFamily: sans, fontSize: 13.5, color: '#000' },
    labelLine: { show: true, lineStyle: { color: '#000', width: 1.7 } },
    labelLayout: geneLabelLayout(names, offsets, leaders)
  }));
}
addVolcano(0, dimGrey, dimPurple, dimDarkPurple, dimBlue, dimGreen, dimOpenTf, dimGenes, dimGeneX, dimGeneY, dimOffsets, dimLeaders);
addVolcano(1, brightGrey, brightPurple, brightDarkPurple, brightBlue, brightGreen, brightOpenTf, brightGenes, brightGeneX, brightGeneY, brightOffsets, brightLeaders);

// heatmaps
function heatData(rows) {
  const out = [];
  rows.forEach((row, r) => row.forEach((z, c) => out.push([c, r, z])));
  return out;
}
const stripData = sampleGroup.map((g, i) => ({ value: [i, 0, 1], itemStyle: { color: stripColor[g] } }));
series.push({ type: 'heatmap', xAxisIndex: 2, yAxisIndex: 2, data: stripData, silent: true, itemStyle: { borderColor: 'rgba(255,255,255,0.25)', borderWidth: 0.6 } });
const egr2HeatIndex = series.length;
series.push({ type: 'heatmap', xAxisIndex: 3, yAxisIndex: 3, data: heatData(egr2Z), silent: true });
series.push({ type: 'heatmap', xAxisIndex: 5, yAxisIndex: 5, data: stripData, silent: true, itemStyle: { borderColor: 'rgba(255,255,255,0.25)', borderWidth: 0.6 } });
const dusp6HeatIndex = series.length;
series.push({ type: 'heatmap', xAxisIndex: 6, yAxisIndex: 6, data: heatData(dusp6Z), silent: true });

// combined Z score plots
const mean = a => a.reduce((s, v) => s + v, 0) / a.length;
const sd = a => { const m = mean(a); return Math.sqrt(a.reduce((s, v) => s + (v - m) * (v - m), 0) / (a.length - 1)); };

function errorBarRender(params, api) {
  const x = api.value(0), m = api.value(1), s = api.value(2);
  const c = api.coord([x, m]), top = api.coord([x, m + s]), bot = api.coord([x, m - s]);
  const st = { stroke: '#000', lineWidth: 2 };
  return { type: 'group', children: [
    { type: 'line', shape: { x1: c[0] - 18, y1: c[1], x2: c[0] + 18, y2: c[1] }, style: st },
    { type: 'line', shape: { x1: c[0], y1: top[1], x2: c[0], y2: bot[1] }, style: st },
    { type: 'line', shape: { x1: c[0] - 9, y1: top[1], x2: c[0] + 9, y2: top[1] }, style: st },
    { type: 'line', shape: { x1: c[0] - 9, y1: bot[1], x2: c[0] + 9, y2: bot[1] }, style: st }
  ] };
}
function sigRender(texts) {
  return function (params, api) {
    const a = api.coord([api.value(0), api.value(2)]);
    const b = api.coord([api.value(1), api.value(2)]);
    const s = api.coord([api.value(3), api.value(2)]);
    const st = { stroke: '#666', lineWidth: 1 };
    return { type: 'group', children: [
      { type: 'line', shape: { x1: a[0], y1: a[1], x2: b[0], y2: b[1] }, style: st },
      { type: 'line', shape: { x1: a[0], y1: a[1] - 2, x2: a[0], y2: a[1] + 2 }, style: st },
      { type: 'line', shape: { x1: b[0], y1: b[1] - 2, x2: b[0], y2: b[1] + 2 }, style: st },
      { type: 'text', x: s[0], y: a[1] + 1, style: { text: texts[params.dataIndex], fill: '#222', font: 'bold 12px "Liberation Sans"', align: 'center', verticalAlign: 'middle', textAlign: 'center', textVerticalAlign: 'middle' } }
    ] };
  };
}
function addDots(gi, scores, jitter, sig, sigText) {
  series.push({ type: 'custom', xAxisIndex: gi, yAxisIndex: gi, silent: true, renderItem: errorBarRender, encode: { x: 0, y: 1 },
    data: scores.map((g, i) => [i, mean(g), sd(g)]) });
  series.push({ type: 'scatter', xAxisIndex: gi, yAxisIndex: gi, silent: true, symbolSize: 9.5,
    itemStyle: { color: '#808080', borderColor: '#000', borderWidth: 1.6 },
    data: scores.flatMap((g, i) => g.map((v, k) => [i + jitter[i][k], v])) });
  series.push({ type: 'custom', xAxisIndex: gi, yAxisIndex: gi, silent: true, renderItem: sigRender(sigText), encode: { x: [0, 1], y: 2 }, data: sig });
}
addDots(8, dusp6Scores, dusp6Jitter, dusp6Sig, dusp6SigText);
addDots(9, egr2Scores, egr2Jitter, egr2Sig, egr2SigText);

// ---------- axes ----------
const volcanoAxisLabel = { fontSize: 9, color: '#4d4d4d', fontFamily: arial, showMinLabel: false, showMaxLabel: false, margin: 4 };
const volcanoSplit = { show: true, lineStyle: { color: '#ebebeb', width: 1.3 } };
function volcanoX(gi, min, max, suffix) {
  return { gridIndex: gi, type: 'value', min: min, max: max, minInterval: 5, maxInterval: 5,
    axisLine: { show: false }, axisTick: { show: true, length: 3, lineStyle: { color: '#555' } },
    axisLabel: volcanoAxisLabel, splitLine: volcanoSplit,
    name: 'Log2 fold change ltNK vs CD56{s|' + suffix + '}', nameLocation: 'middle', nameGap: 18,
    nameTextStyle: { fontFamily: sans, fontSize: 15, color: '#111', lineHeight: 18, rich: { s: { fontFamily: sans, fontSize: 10, color: '#111', verticalAlign: 'top', lineHeight: 11 } } } };
}
function volcanoY(gi, min, max, gap) {
  return { gridIndex: gi, type: 'value', min: min, max: max, minInterval: 5, maxInterval: 5,
    axisLine: { show: false }, axisTick: { show: true, length: 3, lineStyle: { color: '#555' } },
    axisLabel: volcanoAxisLabel, splitLine: volcanoSplit,
    name: '\u2212Log10 FDR', nameLocation: 'middle', nameGap: gap, nameRotate: 90,
    nameTextStyle: { fontFamily: sans, fontSize: 16, color: '#111' } };
}
function catAxis(gi, data, labels) {
  return { gridIndex: gi, type: 'category', data: data,
    axisLine: { show: false }, axisTick: { show: false }, splitLine: { show: false },
    axisLabel: labels ? { show: true, interval: 0, fontFamily: sans, fontSize: 15, color: '#222', margin: 8 } : { show: false } };
}
const rowIdx = n => Array.from({ length: n }, (_, i) => String(i));
function cbarX(gi, min, max) {
  return { gridIndex: gi, type: 'value', inverse: true, min: min, max: max, minInterval: 1, maxInterval: 1,
    axisLine: { show: false }, splitLine: { show: false },
    axisTick: { show: true, length: 4, inside: false, lineStyle: { color: '#444' } },
    axisLabel: { showMinLabel: false, showMaxLabel: false, fontFamily: sans, fontSize: 15, color: '#222', margin: 5,
      formatter: v => (v === -2 ? '\u22122' : String(v)) } };
}
const dotLabels = ['{m|CD56}{s|bright}', '{m|CD56}{s|dim}', '{m|ltNK}'];
function dotX(gi, min, max) {
  return { gridIndex: gi, type: 'value', min: min, max: max,
    axisLine: { show: true, onZero: false, lineStyle: { color: '#000', width: 2 } },
    axisTick: { show: false }, splitLine: { show: false },
    axisLabel: { customValues: [0, 1, 2], hideOverlap: false, interval: 0, margin: 8, formatter: v => dotLabels[Math.round(v)],
      rich: { m: { fontFamily: arial, fontWeight: 'bold', fontSize: 12, color: '#000', lineHeight: 15 },
              s: { fontFamily: arial, fontSize: 8.5, color: '#000', verticalAlign: 'top', lineHeight: 8 } } } };
}
function dotY(gi) {
  return { gridIndex: gi, type: 'value', min: -10, max: 10, interval: 5,
    axisLine: { show: true, onZero: false, lineStyle: { color: '#000', width: 2 } },
    axisTick: { show: true, length: 5, lineStyle: { color: '#000', width: 2 } },
    splitLine: { show: false },
    axisLabel: { fontFamily: arial, fontWeight: 'bold', fontSize: 14, color: '#000', margin: 5 },
    name: 'Combined  Z score', nameLocation: 'middle', nameRotate: 90, nameGap: 30,
    nameTextStyle: { fontFamily: arial, fontWeight: 'bold', fontSize: 15, color: '#000' } };
}
function cbarGradient(zeroPos, left) {
  return new echarts.graphic.LinearGradient(0, 0, 1, 0, [
    { offset: 0, color: left }, { offset: zeroPos, color: '#fcfafa' }, { offset: 1, color: '#b0dde9' }]);
}

const volcanoGrid = { show: true, backgroundColor: '#fff', borderColor: '#333', borderWidth: 1.5 };
const grids = [
  Object.assign({ left: 28, top: 33, width: 454, height: 414 }, volcanoGrid),
  Object.assign({ left: 527, top: 33, width: 455, height: 414 }, volcanoGrid),
  { left: 49, top: 574, width: 257, height: 11 },
  { left: 49, top: 587, width: 257, height: 292 },
  { left: 49, top: 903, width: 257, height: 13, show: true, borderColor: '#555', borderWidth: 1, backgroundColor: cbarGradient(2.08 / 5.06, '#a393a5') },
  { left: 371, top: 573, width: 256, height: 11 },
  { left: 371, top: 589, width: 256, height: 292 },
  { left: 371, top: 903, width: 256, height: 14, show: true, borderColor: '#555', borderWidth: 1, backgroundColor: cbarGradient(2.47 / 5.45, '#9a899b') },
  { left: 708, top: 695, width: 181, height: 181 },
  { left: 958, top: 695, width: 180, height: 181 }
];

const xAxes = [
  volcanoX(0, -10.8, 8.75, 'dim'),
  volcanoX(1, -10.6, 6.57, 'bright'),
  catAxis(2, egr2Samples, false),
  catAxis(3, egr2Samples, true),
  cbarX(4, -2.98, 2.08),
  catAxis(5, dusp6Samples, false),
  catAxis(6, dusp6Samples, true),
  cbarX(7, -2.98, 2.47),
  dotX(8, -0.706, 2.843),
  dotX(9, -0.648, 2.685)
];
const hiddenY = gi => ({ gridIndex: gi, type: 'value', show: false, min: 0, max: 1 });
const yAxes = [
  volcanoY(0, -0.65, 14.2, 18),
  volcanoY(1, -0.7, 16.1, 19),
  catAxis(2, ['g'], false),
  Object.assign(catAxis(3, rowIdx(egr2Z.length), false), { inverse: true }),
  hiddenY(4),
  catAxis(5, ['g'], false),
  Object.assign(catAxis(6, rowIdx(dusp6Z.length), false), { inverse: true }),
  hiddenY(7),
  dotY(8),
  dotY(9)
];

// ---------- free text, legend, triangles ----------
function text(x, y, str, font, extra) {
  return { type: 'text', x: x, y: y, silent: true,
    style: Object.assign({ text: str, font: font, fill: '#111', align: 'left', verticalAlign: 'middle', textAlign: 'left', textVerticalAlign: 'middle' }, extra || {}) };
}
const center = { align: 'center', textAlign: 'center' };
const titleRich = color => ({
  g: { fill: '#4a9a12', fontFamily: sans, fontWeight: 'bold', fontSize: 19 },
  c: { fill: color, fontFamily: sans, fontWeight: 'bold', fontSize: 19 },
  s: { fill: color, fontFamily: sans, fontWeight: 'bold', fontSize: 12, verticalAlign: 'top', lineHeight: 12 }
});
const legendFont = '16px Lato';
const graphics = [
  text(10, 14, 'A', 'bold 20px "Liberation Sans"', { fill: '#000' }),
  text(10, 521, 'B', 'bold 20px "Liberation Sans"', { fill: '#000' }),
  text(250, 13, 'Bone marrow: {g|ltNK} vs {c|CD56}{s|dim}', 'bold 19px Lato', Object.assign({ rich: titleRich('#0b0bd0'), fill: '#000' }, center)),
  text(770, 13, 'Bone marrow: {g|ltNK} vs {c|CD56}{s|bright}', 'bold 19px Lato', Object.assign({ rich: titleRich('#c0141a'), fill: '#000' }, center)),
  text(1008, 44, 'Induced by', '17px Lato'),
  { type: 'circle', silent: true, shape: { cx: 1013, cy: 72, r: 5 }, style: { fill: colPurple } },
  text(1029, 72, 'EGF', legendFont),
  { type: 'circle', silent: true, shape: { cx: 1013, cy: 94, r: 5 }, style: { fill: colBlue } },
  text(1029, 94, 'bone marrow stromal', legendFont),
  text(1029, 114, 'cells', legendFont),
  { type: 'circle', silent: true, shape: { cx: 1013, cy: 137, r: 5 }, style: { fill: colGreen } },
  text(1029, 137, 'EGF / bone marrow', legendFont),
  text(1029, 157, 'stromal cells', legendFont),
  { type: 'line', silent: true, shape: { x1: 1009, y1: 173, x2: 1192, y2: 173 }, style: { stroke: '#000', lineWidth: 1.3, lineDash: [8, 12] } },
  { type: 'circle', silent: true, shape: { cx: 1013, cy: 190, r: 4.3 }, style: { fill: '#fff', stroke: '#000', lineWidth: 1.6 } },
  text(1029, 190, 'transcription factor', legendFont),
  { type: 'circle', silent: true, shape: { cx: 1013, cy: 217, r: 5 }, style: { fill: '#000' } },
  text(1029, 217, 'inhibitor growth factor', legendFont),
  text(1029, 238, 'signaling', legendFont),
  text(180, 524, 'EGR2 targets', 'bold 21px Lato', Object.assign({ fill: '#111' }, center)),
  text(502, 525, 'DUSP6 targets', 'bold 21px Lato', Object.assign({ fill: '#111' }, center)),
  { type: 'polygon', silent: true, shape: { points: [[49, 541], [49, 567], [306, 567]] }, style: { fill: '#fff', stroke: '#222', lineWidth: 1.5 } },
  { type: 'polygon', silent: true, shape: { points: [[371, 542], [371, 568], [627, 568]] }, style: { fill: '#fff', stroke: '#222', lineWidth: 1.5 } },
  Object.assign(text(30, 841, '73 genes', '20px Lato', Object.assign({ fill: '#111' }, center)), { rotation: Math.PI / 2 }),
  Object.assign(text(355, 842, '39 genes', '20px Lato', Object.assign({ fill: '#111' }, center)), { rotation: Math.PI / 2 }),
  text(798, 668, 'DUSP6 targets', 'bold 17px "Liberation Sans"', Object.assign({ fill: '#000' }, center)),
  text(1047, 668, 'EGR2 targets', 'bold 17px "Liberation Sans"', Object.assign({ fill: '#000' }, center))
];

const heatColors = ['#a6d8e5', '#fcfafa', '#a393a4'];
const chart = echarts.init(document.getElementById('chart'));
chart.setOption({
  backgroundColor: '#fff',
  animation: false,
  grid: grids,
  xAxis: xAxes,
  yAxis: yAxes,
  visualMap: [
    { type: 'continuous', show: false, seriesIndex: egr2HeatIndex, min: -1.6, max: 1.6, inRange: { color: heatColors } },
    { type: 'continuous', show: false, seriesIndex: dusp6HeatIndex, min: -1.6, max: 1.6, inRange: { color: heatColors } }
  ],
  graphic: graphics,
  series: series
});
</script>
</body>
</html>
